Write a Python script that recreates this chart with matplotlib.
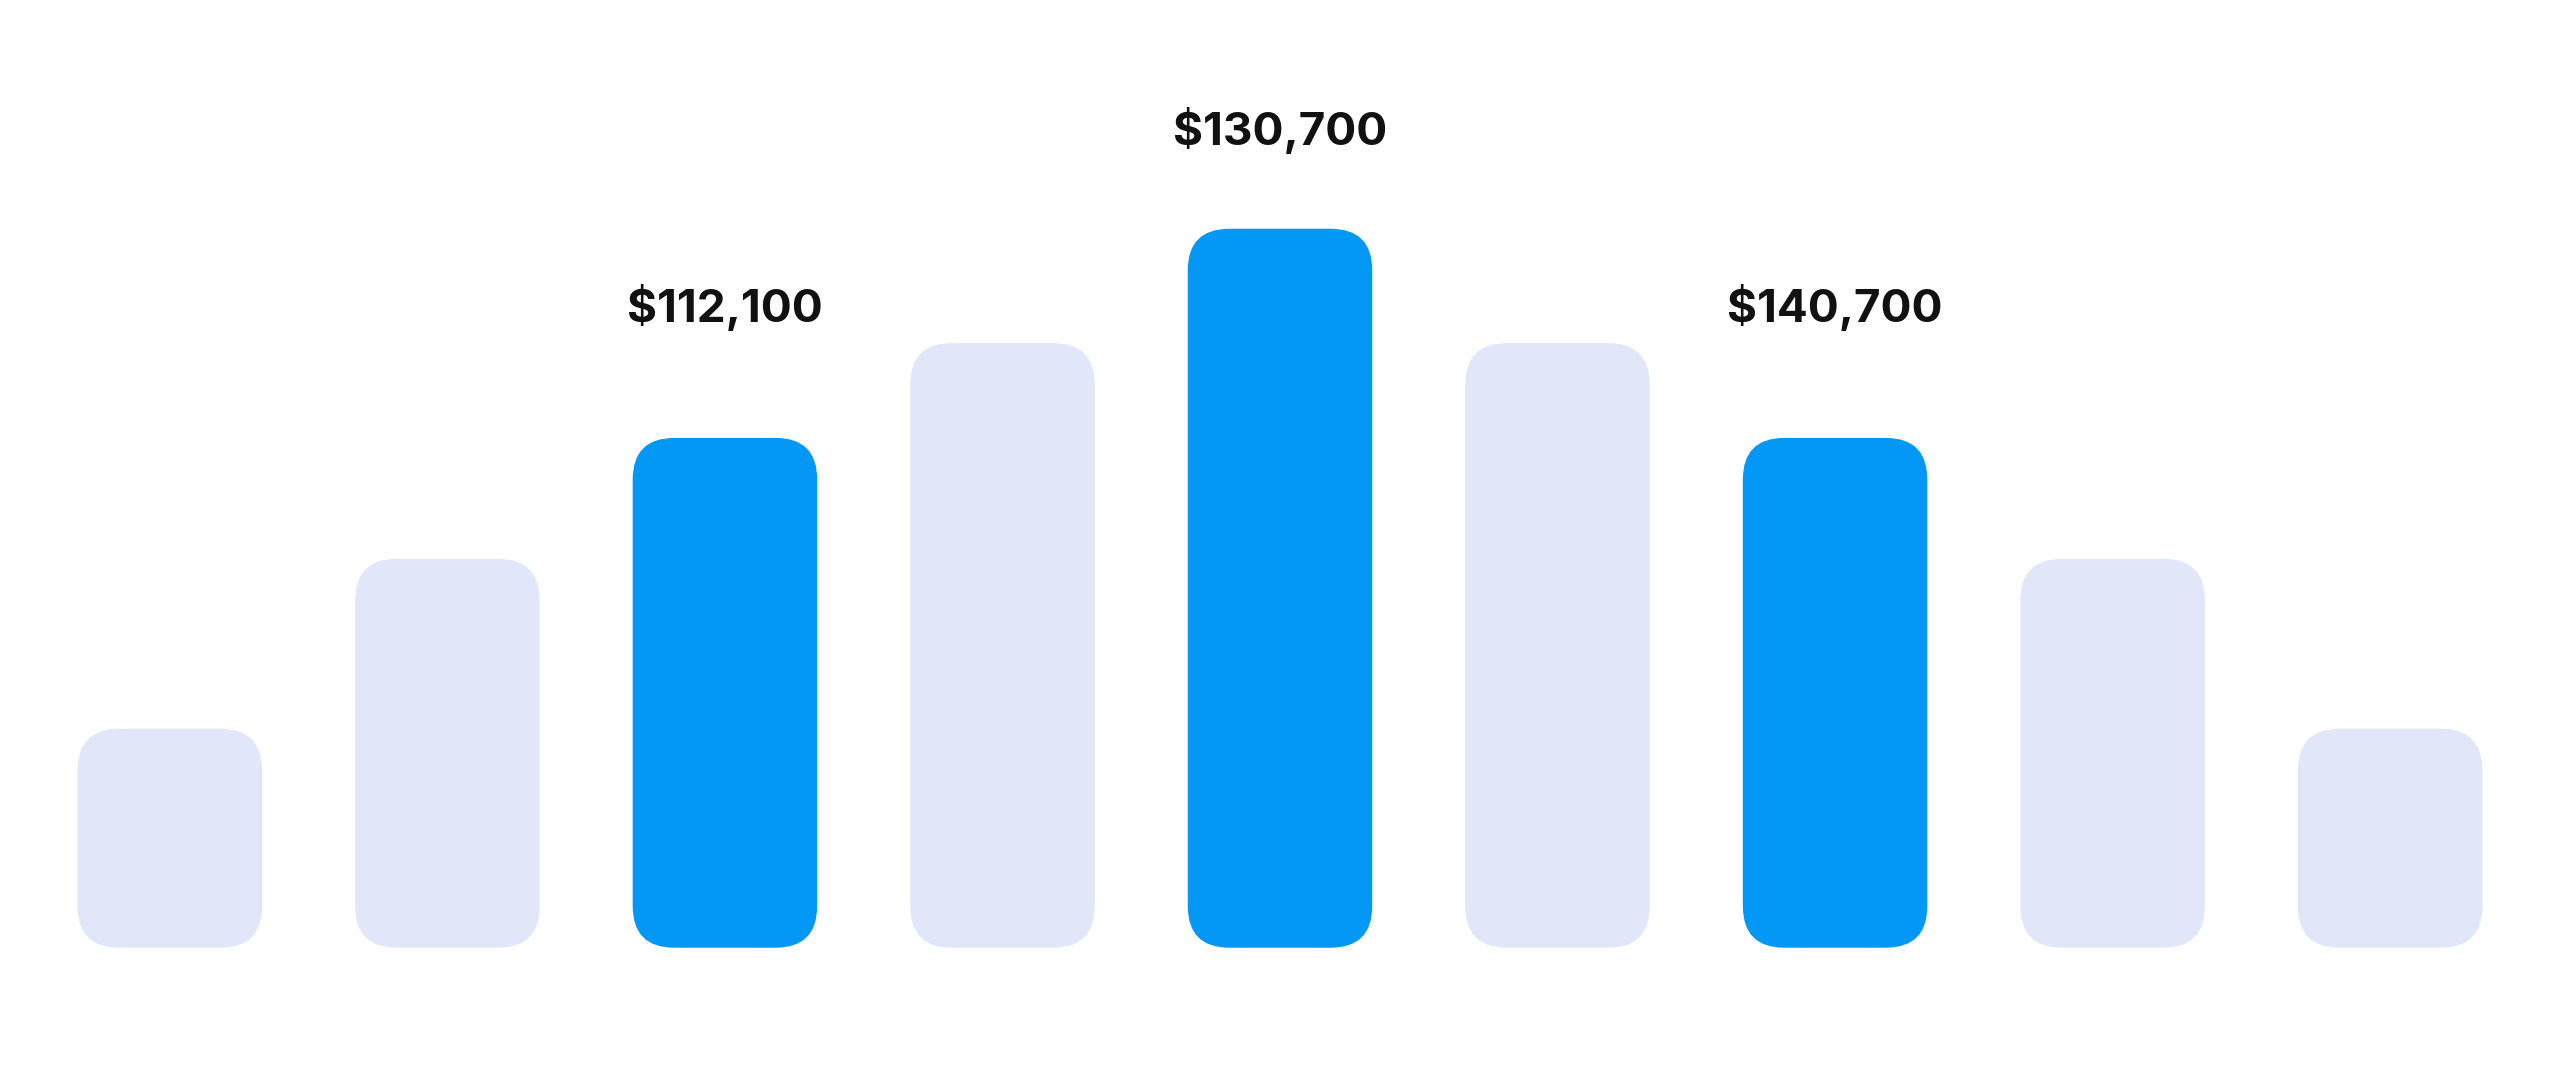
import matplotlib.pyplot as plt
from matplotlib.patches import FancyBboxPatch

heights = [134, 238, 312, 370, 440, 370, 312, 238, 134]
highlight = [False, False, True, False, True, False, True, False, False]
labels = {2: "$112,100", 4: "$130,700", 6: "$140,700"}

BLUE = "#0398F6"
LIGHT = "#E1E6F8"

fig = plt.figure(figsize=(25.6, 10.67), dpi=100)
ax = fig.add_axes([0, 0, 1, 1])
ax.set_xlim(-0.612, 8.612)
ax.set_ylim(-73, 580)
ax.axis("off")

w = 113 / 170
for i, (h, hl) in enumerate(zip(heights, highlight)):
    p = FancyBboxPatch((i - w / 2, 0), w, h,
                       boxstyle="round,pad=0,rounding_size=0.15",
                       mutation_aspect=170, fc=BLUE if hl else LIGHT, ec="none")
    ax.add_patch(p)

for i, txt in labels.items():
    off = 60 if i == 4 else 80
    ax.text(i, heights[i] + off, txt.replace("$", r"\$"), ha="center", va="center",
            fontsize=33, fontweight="bold", family=["Inter", "DejaVu Sans"], color="#111111")

fig.savefig("out.png", dpi=100, facecolor="white")
